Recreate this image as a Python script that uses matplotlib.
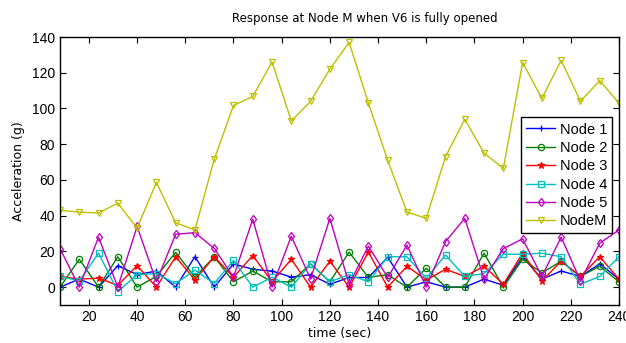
import numpy as np
import matplotlib
matplotlib.use("Agg")
import matplotlib.pyplot as plt

# ─────── Data ───────
time_sec = list(range(8, 241, 8))

node1 = [0, 4.5, 0, 12, 7, 9, 0, 17, 0, 13, 10, 9, 5.6, 7, 1.6,
         5.4, 5.4, 16.7, 0, 3, 0, 0, 4.5, 1, 17, 4.5, 9, 6, 13, 4.5]
node2 = [0, 15.6, 0, 17, 0, 6, 19.5, 5.5, 17, 3, 9, 3, 3, 13, 3,
         19.6, 5.4, 7, 0, 10.6, 0, 0, 19, 0, 15.6, 8, 14.5, 6, 11.7, 3]
node3 = [6, 4.5, 5, 1, 12, 0, 17, 4, 17, 5.6, 17.7, 3, 15.6, 0, 14.5,
         0, 19.6, 0, 11.7, 4, 10, 6, 11.7, 1.6, 19, 3.5, 14.5, 6, 17, 4.5]
node4 = [6, 3.5, 19, -2.5, 7, 7.6, 2, 9.5, 2, 15, 0, 5.6, 0, 13, 3,
         7, 3, 17, 17, 5, 18, 6, 7.6, 18.4, 18.4, 19, 17, 1.6, 6, 17]
node5 = [21.6, 0, 28, 0, 34, 3, 29.6, 30.5, 21.7, 5.6, 38, 0, 28.5, 4.5, 38.5,
         1.6, 23, 5.4, 23.5, 0, 25.5, 38.5, 4.5, 21.6, 27, 6, 28, 3.5, 24.6, 32]
nodeM = [43, 42, 41.5, 47, 33, 58.6, 36, 32, 71.5, 101.7, 106.7, 126, 93, 104, 122,
         137, 103, 71, 42, 38.5, 73, 94, 75, 66.5, 125.7, 105.6, 127, 104, 115.6, 103]

series_names = ["Node 1", "Node 2", "Node 3", "Node 4", "Node 5", "NodeM"]
x_ticks = list(range(20, 241, 20))
y_ticks = list(range(0, 141, 20))

# ─────── Styles (MATLAB-like) ───────
styles = [
    ("#0000ff", "+", "full"),
    ("#008000", "o", "none"),
    ("#ff0000", "*", "full"),
    ("#00bfbf", "s", "none"),
    ("#bf00bf", "d", "none"),
    ("#bfbf00", "v", "none"),
]

narrow = ["Liberation Sans Narrow", "DejaVu Sans"]

fig = plt.figure(figsize=(6.26, 3.43), dpi=100)
ax = fig.add_axes([60 / 626, 1 - 305 / 343, 559 / 626, 268 / 343])

for y, name, (col, mk, fill) in zip([node1, node2, node3, node4, node5, nodeM], series_names, styles):
    ax.plot(time_sec, y, color=col, marker=mk, markersize=4.5, linewidth=1.0,
            markerfacecolor=col if fill == "full" else "none",
            markeredgecolor=col, markeredgewidth=0.9, label=name)

ax.set_xlim(8, 240)
ax.set_ylim(-10, 140)
ax.set_xticks(x_ticks)
ax.set_yticks(y_ticks)
ax.tick_params(direction="in", top=True, right=True, labelsize=10, length=4)
for lab in ax.get_xticklabels() + ax.get_yticklabels():
    lab.set_family("Liberation Sans")

ax.set_title("Response at Node M when V6 is fully opened", family=narrow, fontsize=8.5,
             x=0.545, pad=11)
ax.set_xlabel("time (sec)", family=narrow, fontsize=9, labelpad=2)
ax.set_ylabel("Acceleration (g)", family=narrow, fontsize=9, labelpad=5)

leg = ax.legend(loc="upper right", bbox_to_anchor=(0.9875, 0.70),
                prop={"family": "Liberation Sans", "size": 10.5},
                fancybox=False, framealpha=1, edgecolor="black",
                handlelength=2.0, handletextpad=0.3, borderpad=0.35, labelspacing=0.3,
                borderaxespad=0)
leg.get_frame().set_linewidth(1.0)

for s in ax.spines.values():
    s.set_linewidth(1.0)

fig.savefig("out.png", dpi=100)
